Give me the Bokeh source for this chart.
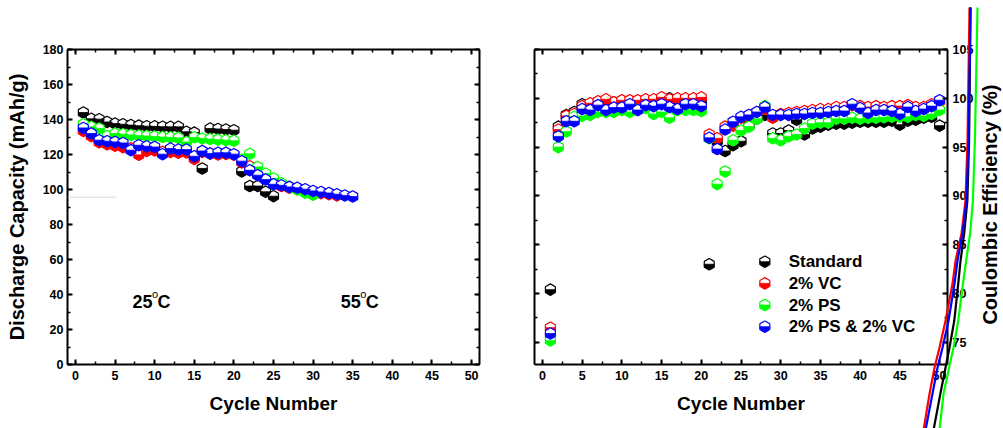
import math
from bokeh.plotting import figure
from bokeh.layouts import row
from bokeh.models import (ColumnDataSource, Range1d, LinearAxis, SingleIntervalTicker,
                          Label, PolyAnnotation, CustomJSTickFormatter, GridBox)
from bokeh.core.properties import value
from bokeh.embed import file_html
from bokeh.resources import INLINE

FONT = "Liberation Sans"

# ---------------- data ----------------
series_names = ["Standard", "2% VC", "2% PS", "2% PS & 2% VC"]
series_colors = ["#000000", "#ff0000", "#00ff00", "#0000ff"]

# discharge capacity (mAh/g), cycles 1..n (visible part)
cap_std = [144.0, 140.4, 140.2, 138.6, 137.7, 137.3, 136.8, 136.5, 136.2, 136.1, 135.9, 135.8, 135.8,
           133.0, 132.5, 112.0, 134.8, 134.6, 134.3, 133.9, 110.3, 102.0, 102.0, 98.7, 96.2]
cap_vc = [133.5, 130.5, 127.0, 125.8, 125.0, 124.2, 123.5, 119.8, 122.0, 122.3, 121.5, 121.5, 121.0,
          121.2, 117.5, 121.5, 120.5, 120.0, 120.3, 119.8, 115.5, 113.3, 109.8, 106.8, 103.8, 102.0,
          101.0, 100.2, 99.4, 98.6, 97.9, 97.3, 96.6]
cap_ps = [137.3, 135.8, 134.9, 130.5, 132.0, 131.6, 131.2, 130.8, 130.6, 130.3, 130.0, 129.8, 129.5,
          127.2, 129.8, 129.2, 128.8, 128.5, 128.2, 127.8, 117.0, 120.4, 112.9, 109.1, 106.3, 103.6,
          101.6, 100.0, 98.2, 97.0]
cap_psvc = [135.2, 132.0, 128.2, 127.6, 127.2, 126.6, 122.5, 125.3, 124.7, 124.3, 120.2, 123.4, 122.8,
            122.8, 119.0, 122.0, 120.6, 121.0, 121.0, 120.2, 116.2, 111.0, 108.2, 105.7, 103.0, 102.4,
            101.5, 101.0, 100.2, 99.2, 98.6, 98.0, 97.3, 96.6, 96.0]

# coulombic efficiency (%), cycles 1..50
ce_std = [80.4, 97.1, 98.3, 98.6, 99.4, 99.3, 99.4, 99.7, 99.6, 99.7, 99.7, 99.1, 99.7, 99.7, 99.8,
          100.0, 99.8, 99.8, 99.7, 99.7, 83.0, 95.6, 94.6, 95.2, 95.6, 97.2, 97.9, 98.3, 96.4, 96.4,
          96.7, 97.8, 96.3, 96.9, 97.1, 97.3, 97.4, 97.4, 97.5, 97.6, 97.6, 97.6, 97.6, 97.7, 97.3,
          97.7, 97.8, 98.0, 98.1, 97.2]
ce_vc = [76.5, 96.8, 98.2, 98.4, 99.2, 99.5, 99.7, 99.9, 99.6, 99.8, 99.8, 99.8, 99.9, 99.9, 100.1,
         99.9, 100.0, 100.0, 100.0, 100.1, 96.3, 95.9, 97.1, 97.2, 98.0, 98.3, 98.6, 98.9, 98.0, 98.4,
         98.5, 98.6, 98.7, 98.8, 98.9, 98.9, 99.1, 99.1, 99.3, 99.2, 99.1, 99.2, 99.1, 99.2, 99.2,
         99.3, 99.1, 99.1, 99.4, 99.7]
ce_ps = [75.2, 95.0, 96.6, 98.1, 98.2, 98.3, 98.6, 98.6, 98.6, 98.8, 98.6, 98.8, 99.0, 98.4, 98.6,
         98.0, 98.8, 98.8, 98.8, 98.7, 95.9, 91.2, 92.5, 95.7, 96.7, 97.1, 97.9, 99.2, 95.9, 95.7,
         96.1, 96.3, 96.9, 97.4, 97.5, 97.5, 97.9, 97.9, 98.0, 97.9, 98.0, 98.0, 98.05, 98.1, 98.1,
         98.1, 98.3, 98.2, 98.4, 98.8]
ce_psvc = [75.9, 96.1, 97.65, 97.65, 98.9, 98.8, 99.3, 98.8, 99.05, 99.05, 99.4, 98.8, 99.3, 99.2, 99.4,
           99.1, 98.9, 99.4, 99.4, 99.2, 95.95, 94.8, 96.8, 97.6, 98.1, 98.3, 98.6, 99.1, 98.3, 98.3,
           98.3, 98.4, 98.4, 98.5, 98.5, 98.6, 98.7, 98.7, 99.4, 99.0, 98.5, 98.8, 98.8, 98.7, 98.4,
           99.1, 98.7, 98.9, 99.2, 99.8]

cap_series = [cap_std, cap_vc, cap_ps, cap_psvc]
ce_series = [ce_std, ce_vc, ce_ps, ce_psvc]

temp_texts = ["25", "55"]

# stray curves seen at the right edge of the picture (cycle units, % units)
stray_y = [109.3, 95.67, 89.52, 86.13, 83.36, 81.0, 77.21, 74.44, 72.39, 69.73, 66.0]
stray_x_red = [53.77, 53.52, 53.27, 52.76, 52.01, 51.63, 50.75, 49.99, 49.36, 48.74, 47.98]
stray_x_black = [53.90, 53.72, 53.50, 53.1, 52.64, 52.35, 51.85, 51.25, 50.75, 50.1, 49.24]
stray_x_blue = [53.90, 53.65, 53.39, 52.89, 52.26, 51.88, 51.13, 50.37, 49.74, 49.11, 48.23]
stray_x_green = [54.78, 54.45, 54.20, 53.85, 53.35, 52.95, 52.35, 51.75, 51.2, 50.5, 49.99]
stray_curves = [(stray_x_red, "#ff0000"), (stray_x_black, "#000000"),
                (stray_x_blue, "#0000ff"), (stray_x_green, "#00ff00")]


# ---------------- helpers ----------------
def style_axis(ax, show_labels=True):
    ax.axis_line_width = 2
    ax.axis_line_color = "black"
    ax.major_tick_line_width = 2
    ax.minor_tick_line_width = 1.5
    ax.major_tick_line_color = "black"
    ax.minor_tick_line_color = "black"
    ax.major_tick_in = 5
    ax.major_tick_out = 0
    ax.minor_tick_in = 3
    ax.minor_tick_out = 0
    ax.major_label_text_font = FONT
    ax.major_label_text_font_style = "bold"
    ax.major_label_text_font_size = "12.5px"
    ax.major_label_text_color = "black"
    ax.axis_label_text_font = FONT
    ax.axis_label_text_font_style = "bold"
    ax.axis_label_text_color = "black"
    if not show_labels:
        ax.formatter = CustomJSTickFormatter(code="return ''")
        ax.major_label_standoff = 0


def half_markers(p, xs, ys, color, size=11.5):
    src = ColumnDataSource(dict(x=xs, y=ys))
    p.scatter("x", "y", source=src, marker="hex", angle=math.pi / 2, size=size,
              fill_color="white", line_color=color, line_width=1.2)
    p.wedge("x", "y", source=src, radius=size * 0.435, radius_units="screen",
            start_angle=math.pi, end_angle=2 * math.pi,
            fill_color=color, line_color=color, line_width=0.8)


def make_fig(y_range, width, left, right, y_loc):
    p = figure(width=width, height=428, x_range=Range1d(-1, 51), y_range=y_range,
               output_backend="svg", toolbar_location=None, y_axis_location=y_loc,
               min_border_left=left, min_border_right=right,
               min_border_top=49, min_border_bottom=64)
    p.xgrid.visible = False
    p.ygrid.visible = False
    p.outline_line_color = None
    p.background_fill_color = "white"
    p.border_fill_color = "white"
    return p


x_ticker = lambda: SingleIntervalTicker(interval=5, num_minor_ticks=2)

# ---------------- left: discharge capacity ----------------
p1 = make_fig(Range1d(0, 180), 500, 67, 21, "left")
p1.xaxis[0].ticker = x_ticker()
p1.yaxis[0].ticker = SingleIntervalTicker(interval=20, num_minor_ticks=2)
style_axis(p1.xaxis[0])
style_axis(p1.yaxis[0])
p1.xaxis[0].axis_label = "Cycle Number"
p1.xaxis[0].axis_label_text_font_size = "19px"
p1.xaxis[0].axis_label_standoff = 10
p1.xaxis[0].major_label_standoff = 6
p1.yaxis[0].axis_label = "Discharge Capacity (mAh/g)"
p1.yaxis[0].axis_label_text_font_size = "20px"
p1.yaxis[0].axis_label_standoff = 12
p1.yaxis[0].major_label_standoff = 4
top1 = LinearAxis(ticker=x_ticker())
style_axis(top1, False)
p1.add_layout(top1, "above")
right1 = LinearAxis(ticker=SingleIntervalTicker(interval=20, num_minor_ticks=2))
style_axis(right1, False)
p1.add_layout(right1, "right")

for vals, col in zip(cap_series, series_colors):
    half_markers(p1, list(range(1, len(vals) + 1)), vals, col)

p1.add_layout(PolyAnnotation(xs=[-5.0, 5.1, 5.1, -5.0], ys=[95.6, 95.6, 95.6, 95.6],
                             fill_alpha=0, line_color="#b4bcbc", line_width=1))

for txt, tx in zip(temp_texts, [7.2, 33.5]):
    p1.add_layout(Label(x=tx, y=35.8, text=txt, text_font=FONT, text_font_style="bold",
                        text_font_size="18px", text_baseline="alphabetic", text_color="black"))
    p1.add_layout(Label(x=tx, y=35.8, x_offset=19.5, y_offset=8, text="o", text_font=FONT,
                        text_font_size="11px", text_baseline="alphabetic", text_color="black"))
    p1.add_layout(Label(x=tx, y=35.8, x_offset=25, text="C", text_font=FONT,
                        text_font_style="bold", text_font_size="18px",
                        text_baseline="alphabetic", text_color="black"))

# ---------------- right: coulombic efficiency ----------------
Y2_START, Y2_END = 72.73, 105.0
p2 = make_fig(Range1d(Y2_START, Y2_END), 503, 34, 56, "right")
p2.xaxis[0].ticker = x_ticker()
p2.yaxis[0].ticker = SingleIntervalTicker(interval=5, num_minor_ticks=2)
style_axis(p2.xaxis[0])
style_axis(p2.yaxis[0])
p2.xaxis[0].axis_label = "Cycle Number"
p2.xaxis[0].axis_label_text_font_size = "19px"
p2.xaxis[0].axis_label_standoff = 10
p2.xaxis[0].major_label_standoff = 6
p2.yaxis[0].major_label_standoff = 5
top2 = LinearAxis(ticker=x_ticker())
style_axis(top2, False)
p2.add_layout(top2, "above")
left2 = LinearAxis(ticker=SingleIntervalTicker(interval=5, num_minor_ticks=2))
style_axis(left2, False)
p2.add_layout(left2, "left")

for vals, col in zip(ce_series, series_colors):
    half_markers(p2, list(range(1, len(vals) + 1)), vals, col)

# legend (manual, to reproduce the half-filled symbols)
leg_x, leg_y0, leg_dy = 28.0, 83.26, 2.22
for i, (name, col) in enumerate(zip(series_names, series_colors)):
    ly = leg_y0 - i * leg_dy
    half_markers(p2, [leg_x], [ly], col)
    p2.add_layout(Label(x=leg_x + 3.0, y=ly, text=name, text_font=FONT, text_font_style="bold",
                        text_font_size="17px", text_baseline="middle", text_color="black"))

# ---------------- transparent overlay on the right panel (same data units) ----------------
px_x = 413 / 52.0           # pixels per cycle in p2 frame
px_y = 315 / (Y2_END - Y2_START)
ov_x = Range1d(-1 - 34 / px_x, -1 - 34 / px_x + 503 / px_x)
ov_y = Range1d(Y2_END + 49 / px_y - 428 / px_y, Y2_END + 49 / px_y)
p3 = figure(width=503, height=428, x_range=ov_x, y_range=ov_y, output_backend="svg",
            toolbar_location=None, x_axis_location=None, y_axis_location=None,
            min_border_left=0, min_border_right=0, min_border_top=0, min_border_bottom=0)
p3.xgrid.visible = False
p3.ygrid.visible = False
p3.outline_line_color = None
p3.background_fill_color = None
p3.border_fill_color = None

p3.text(x=[56.3], y=[(Y2_START + Y2_END) / 2 + 0.25], text=["Coulombic Efficiency (%)"],
        angle=math.pi / 2, text_font=value(FONT), text_font_style="bold",
        text_font_size="20px", text_align="center", text_baseline="middle", text_color="black")

for xs, col in stray_curves:
    p3.line(xs, stray_y, line_color=col, line_width=2.2, line_join="round")

layout = GridBox(children=[(p1, 0, 0), (p2, 0, 1), (row(p3), 0, 1)])
open("out.html", "w").write(file_html(layout, INLINE))
